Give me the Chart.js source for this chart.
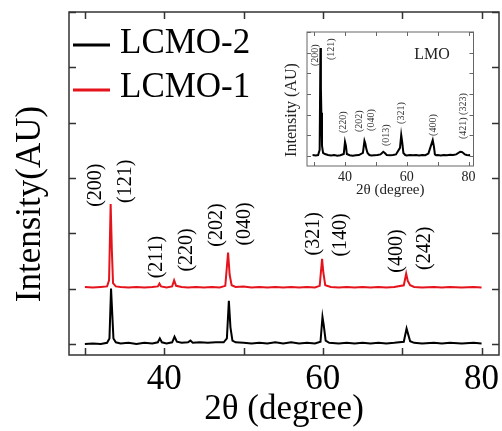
<!DOCTYPE html>
<html>
<head>
<meta charset="utf-8">
<script src="https://cdn.jsdelivr.net/npm/chart.js@4.4.1/dist/chart.umd.min.js"></script>
<style>
  html, body { margin: 0; padding: 0; background: #fff; }
  #wrap { position: relative; width: 502px; height: 431px; }
  #wrap canvas { position: absolute; left: 0; top: 0; }
</style>
</head>
<body>
<div id="wrap">
  <canvas id="main" width="502" height="431"></canvas>
  <canvas id="inset" width="502" height="431"></canvas>
</div>
<script>
'use strict';

// main plot: two XRD patterns, LCMO-1 shifted up by ~1 unit as in the figure
const seriesNames = ['LCMO-2', 'LCMO-1'];
const seriesColors = ['#000000', '#e5131b'];

const lcmo2X = [30, 31, 32, 32.8, 33.1, 33.3, 33.45, 33.6, 33.9, 34.5, 35.5, 36.5, 37.5, 38.5, 39.2, 39.45, 39.7, 40.3, 41, 41.3, 41.6, 42.2, 43, 43.3, 43.6, 44.5, 45.5, 46.5, 47.5, 47.9, 48.15, 48.35, 48.6, 49, 50, 51, 52, 53, 54, 55, 56, 57, 58, 59, 59.7, 59.95, 60.1, 60.35, 60.8, 62, 63, 64, 65, 66, 67, 68, 69, 70.2, 70.55, 70.7, 71, 71.5, 72.5, 74, 75, 76, 77.5, 79, 80];
const lcmo2Y = [0, 0.01, 0, 0.02, 0.1, 1.0, 0.55, 0.1, 0.03, 0.01, 0.02, 0, 0.02, 0.01, 0.03, 0.1, 0.03, 0.01, 0.03, 0.13, 0.04, 0.02, 0.03, 0.06, 0.02, 0.03, 0.02, 0.03, 0.03, 0.1, 0.78, 0.3, 0.06, 0.03, 0.02, 0.01, 0.02, 0.01, 0.03, 0.01, 0.03, 0.01, 0.02, 0.01, 0.04, 0.49, 0.35, 0.06, 0.02, 0.01, 0.02, 0.01, 0.02, 0.01, 0.02, 0.01, 0.02, 0.04, 0.28, 0.2, 0.05, 0.02, 0.01, 0.02, 0.01, 0.02, 0.01, 0.02, 0.01];

const lcmo1X = [30, 31, 32, 32.8, 33.05, 33.25, 33.4, 33.55, 33.9, 34.5, 35.5, 36.5, 37.5, 38.5, 39.2, 39.4, 39.6, 40.3, 41, 41.25, 41.5, 42.2, 43, 44, 45, 46, 47, 47.7, 48.05, 48.25, 48.5, 49, 50, 51, 52, 53, 54, 55, 56, 57, 58, 59, 59.6, 59.9, 60.05, 60.3, 61, 62, 63, 64, 65, 66, 67, 68, 69, 70.2, 70.5, 70.7, 71, 71.5, 72.5, 74, 75, 76, 77.5, 79, 80];
const lcmo1Y = [1.03, 1.02, 1.03, 1.04, 1.15, 2.53, 1.7, 1.1, 1.04, 1.03, 1.02, 1.03, 1.02, 1.03, 1.04, 1.09, 1.04, 1.02, 1.04, 1.15, 1.05, 1.03, 1.02, 1.03, 1.02, 1.03, 1.02, 1.05, 1.65, 1.25, 1.06, 1.03, 1.04, 1.02, 1.03, 1.02, 1.03, 1.02, 1.03, 1.02, 1.03, 1.02, 1.05, 1.54, 1.3, 1.06, 1.03, 1.02, 1.03, 1.02, 1.03, 1.02, 1.03, 1.02, 1.03, 1.06, 1.27, 1.14, 1.06, 1.03, 1.02, 1.03, 1.02, 1.03, 1.02, 1.03, 1.02];

const xTickLabels = [40, 60, 80];

const mainPeakLabels = ['(200)', '(121)', '(211)', '(220)', '(202)', '(040)', '(321)', '(140)', '(400)', '(242)'];
const mainLabelX = [31.4, 35.2, 39.1, 42.9, 46.6, 50.1, 58.9, 62.2, 69.3, 72.9];
const mainLabelY = [2.87, 2.94, 1.57, 1.70, 2.15, 2.17, 1.99, 1.97, 1.68, 1.73];

// inset: LMO pattern
const lmoX = [29.5, 30.5, 31.3, 31.8, 32.05, 32.2, 32.35, 32.55, 32.9, 33.5, 34.5, 35.5, 36.5, 37.5, 38.5, 39.6, 40.0, 40.3, 40.6, 41.5, 42.5, 43.5, 44.5, 45.8, 46.3, 46.6, 46.9, 47.3, 47.9, 48.5, 49.5, 50.5, 51.5, 52.4, 52.9, 53.5, 54.5, 55.5, 56.5, 57.8, 58.2, 58.5, 58.9, 59.5, 60, 61, 62, 63, 64, 65, 66, 67, 68.4, 68.8, 69.1, 69.5, 70, 71, 72, 73, 74, 75, 76, 77.3, 77.8, 78.3, 78.8, 79.4, 80, 80.5];
const lmoY = [0.05, 0.03, 0.05, 0.3, 5.23, 3.3, 2.1, 0.5, 0.15, 0.1, 0.05, 0.03, 0.05, 0.02, 0.04, 0.1, 0.69, 0.5, 0.1, 0.04, 0.02, 0.04, 0.05, 0.15, 0.74, 0.6, 0.35, 0.15, 0.05, 0.03, 0.04, 0.05, 0.08, 0.21, 0.15, 0.05, 0.04, 0.05, 0.08, 0.4, 1.02, 0.7, 0.15, 0.05, 0.03, 0.05, 0.04, 0.05, 0.03, 0.05, 0.04, 0.12, 0.77, 0.45, 0.08, 0.04, 0.05, 0.03, 0.05, 0.04, 0.06, 0.05, 0.08, 0.21, 0.2, 0.15, 0.08, 0.05, 0.04, 0.05];

const insetPeakLabels = ['(200)', '(121)', '(220)', '(202)', '(040)', '(013)', '(321)', '(400)', '(421) (323)'];
const insetLabelX = [30.3, 35.6, 39.45, 44.5, 48.6, 53.4, 58.3, 68.5, 78.3];
const insetLabelY = [4.88, 5.17, 1.64, 1.69, 1.74, 1.01, 2.08, 1.50, 1.93];

const serif = "'Liberation Serif', 'Times New Roman', serif";

function toPoints(xs, ys) {
  return xs.map((x, i) => ({ x: x, y: ys[i] }));
}

// box round the plot area with inward ticks on all four sides
function framePlugin(color, width, tickLen) {
  return {
    id: 'frame',
    afterDraw(chart) {
      const ctx = chart.ctx;
      const a = chart.chartArea;
      const xs = chart.scales.x, ys = chart.scales.y;
      ctx.save();
      ctx.strokeStyle = color;
      ctx.lineWidth = width;
      ctx.strokeRect(a.left, a.top, a.right - a.left, a.bottom - a.top);
      ctx.beginPath();
      xs.ticks.forEach(t => {
        const px = Math.round(xs.getPixelForValue(t.value)) + 0.5;
        ctx.moveTo(px, a.bottom); ctx.lineTo(px, a.bottom - tickLen);
        ctx.moveTo(px, a.top); ctx.lineTo(px, a.top + tickLen);
      });
      ys.ticks.forEach(t => {
        const py = Math.round(ys.getPixelForValue(t.value)) + 0.5;
        ctx.moveTo(a.left, py); ctx.lineTo(a.left + tickLen, py);
        ctx.moveTo(a.right, py); ctx.lineTo(a.right - tickLen, py);
      });
      ctx.stroke();
      ctx.restore();
    }
  };
}

// rotated hkl labels placed in data coordinates
function peakLabelPlugin(texts, lx, ly, size, color) {
  return {
    id: 'peakLabels',
    afterDatasetsDraw(chart) {
      const ctx = chart.ctx;
      const xs = chart.scales.x, ys = chart.scales.y;
      ctx.save();
      ctx.fillStyle = color;
      ctx.font = size + 'px ' + serif;
      ctx.textAlign = 'center';
      ctx.textBaseline = 'middle';
      texts.forEach((t, i) => {
        ctx.save();
        ctx.translate(xs.getPixelForValue(lx[i]), ys.getPixelForValue(ly[i]));
        ctx.rotate(-Math.PI / 2);
        ctx.fillText(t, 0, 0);
        ctx.restore();
      });
      ctx.restore();
    }
  };
}

function rotatedText(ctx, text, x, y, font, color) {
  ctx.save();
  ctx.fillStyle = color;
  ctx.font = font;
  ctx.textAlign = 'center';
  ctx.textBaseline = 'middle';
  ctx.translate(x, y);
  ctx.rotate(-Math.PI / 2);
  ctx.fillText(text, 0, 0);
  ctx.restore();
}

const mainExtras = {
  id: 'mainExtras',
  afterDraw(chart) {
    const ctx = chart.ctx;
    rotatedText(ctx, 'Intensity(AU)', 31, 204, '35px ' + serif, '#000');
    // legend, black first
    const rows = [[0, 45, 53], [1, 90, 97]];
    ctx.save();
    rows.forEach(r => {
      const ds = chart.data.datasets[r[0]];
      ctx.strokeStyle = ds.borderColor;
      ctx.lineWidth = 3;
      ctx.beginPath();
      ctx.moveTo(73, r[1]); ctx.lineTo(110, r[1]);
      ctx.stroke();
      ctx.fillStyle = '#000';
      ctx.font = '35px ' + serif;
      ctx.textAlign = 'left';
      ctx.textBaseline = 'alphabetic';
      ctx.fillText(ds.label, 120, r[2]);
    });
    ctx.restore();
  }
};

const insetExtras = {
  id: 'insetExtras',
  afterDraw(chart) {
    const ctx = chart.ctx;
    rotatedText(ctx, 'Intensity (AU)', 292, 110, '16px ' + serif, '#222');
    ctx.save();
    ctx.fillStyle = '#222';
    ctx.font = '16px ' + serif;
    ctx.textAlign = 'center';
    ctx.textBaseline = 'middle';
    ctx.fillText('LMO', 432, 55);
    ctx.restore();
  }
};

new Chart(document.getElementById('main'), {
  type: 'line',
  data: {
    datasets: [
      { label: seriesNames[0], data: toPoints(lcmo2X, lcmo2Y), borderColor: seriesColors[0], borderWidth: 2, pointRadius: 0, tension: 0, order: 1 },
      { label: seriesNames[1], data: toPoints(lcmo1X, lcmo1Y), borderColor: seriesColors[1], borderWidth: 2, pointRadius: 0, tension: 0, order: 0 }
    ]
  },
  options: {
    responsive: false,
    animation: false,
    events: [],
    layout: { padding: { left: 69, top: 12, right: 3, bottom: 0 } },
    plugins: { legend: { display: false }, tooltip: { enabled: false } },
    scales: {
      x: {
        type: 'linear', min: 28, max: 82.2,
        afterFit: s => { s.height = 76; },
        grid: { display: false }, border: { display: false },
        ticks: {
          stepSize: 10, includeBounds: false, autoSkip: false, maxRotation: 0, padding: -4,
          color: '#000', font: { family: serif, size: 35 },
          callback: v => xTickLabels.includes(v) ? String(v) : ''
        },
        title: { display: true, text: '2θ (degree)', color: '#000', font: { family: serif, size: 35 }, padding: { top: 0, bottom: 0 } }
      },
      y: {
        type: 'linear', display: false, min: -0.2, max: 6,
        ticks: { stepSize: 1, includeBounds: false }
      }
    }
  },
  plugins: [framePlugin('#333', 1.5, 7), peakLabelPlugin(mainPeakLabels, mainLabelX, mainLabelY, 20, '#000'), mainExtras]
});

new Chart(document.getElementById('inset'), {
  type: 'line',
  data: {
    datasets: [
      { label: 'LMO', data: toPoints(lmoX, lmoY), borderColor: '#000', borderWidth: 2, pointRadius: 0, tension: 0 }
    ]
  },
  options: {
    responsive: false,
    animation: false,
    events: [],
    layout: { padding: { left: 307, top: 32, right: 28.5, bottom: 232 } },
    plugins: { legend: { display: false }, tooltip: { enabled: false } },
    scales: {
      x: {
        type: 'linear', min: 27.7, max: 81.6,
        afterFit: s => { s.height = 33; },
        grid: { display: false }, border: { display: false },
        ticks: {
          stepSize: 10, includeBounds: false, autoSkip: false, maxRotation: 0, padding: -5,
          color: '#222', font: { family: serif, size: 14 },
          callback: v => xTickLabels.includes(v) ? String(v) : ''
        },
        title: { display: true, text: '2θ (degree)', color: '#222', font: { family: serif, size: 15 }, padding: { top: 0, bottom: 0 } }
      },
      y: {
        type: 'linear', display: false, min: -0.48, max: 6,
        ticks: { stepSize: 1, includeBounds: false }
      }
    }
  },
  plugins: [framePlugin('#666', 1, 4), peakLabelPlugin(insetPeakLabels, insetLabelX, insetLabelY, 10, '#333'), insetExtras]
});
</script>
</body>
</html>
